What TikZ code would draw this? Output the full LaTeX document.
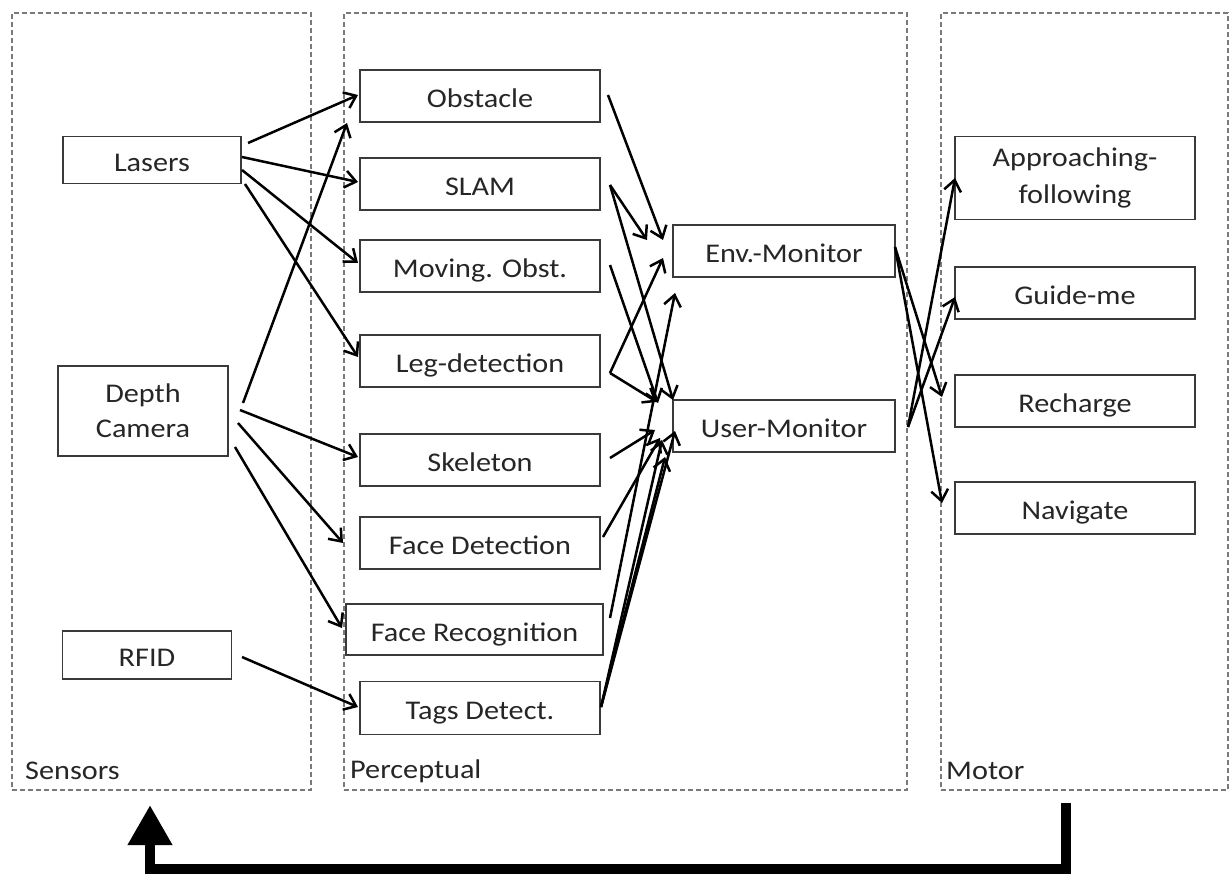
\documentclass[tikz,border=0pt]{standalone}
\usepackage{fontspec}
\setmainfont[FakeStretch=1.12]{Carlito}
\usetikzlibrary{arrows.meta}
\definecolor{boxline}{HTML}{3A3A3A}
\definecolor{dashline}{HTML}{7A7A7A}
\begin{document}
\begin{tikzpicture}[x=1pt,y=-1pt,
  every node/.style={font=\fontsize{27}{31}\selectfont, text=black!85},
  blk/.style={draw=boxline, line width=1.3pt, minimum width=240, minimum height=52, inner sep=0pt, align=center},
  one/.style={text height=23pt, text depth=0pt},
  container/.style={draw=dashline, line width=1.6pt, dash pattern=on 5pt off 3pt, minimum width=#1, minimum height=777, inner sep=0pt},
  grplabel/.style={anchor=west, inner sep=0pt},
  arr/.style={draw=black, line width=2.5pt, -{Straight Barb[length=11pt,width=17pt,line width=2.5pt]}},
  bigarr/.style={draw=black, line width=10pt, line join=miter, -{Triangle[length=40pt,width=42pt]}}
]
\useasboundingbox (0,0) rectangle (1230,879);

% containers
\node[container=299] (sensors) at (161.5,401.5) {};
\node[container=563] (percept) at (625.5,401.5) {};
\node[container=287] (motor) at (1084.5,401.5) {};
\node[grplabel] (lsens) at (25,771) {Sensors};
\node[grplabel] (lperc) at (350,771) {Perceptual};
\node[grplabel] (lmot) at (946,771) {Motor};

% sensors
\node[blk, one, minimum width=178, minimum height=47] (lasers) at (152,160) {Lasers};
\node[blk, minimum width=170, minimum height=90] (depth) at (143,411) {Depth\\[4pt]Camera};
\node[blk, one, minimum width=169, minimum height=48] (rfid) at (147,655) {RFID};

% perceptual
\node[blk, one] (obstacle) at (480,96) {Obstacle};
\node[blk, one] (slam) at (480,184) {SLAM};
\node[blk, one] (moving) at (480,266) {Moving. Obst.};
\node[blk, one] (leg) at (480,361) {Leg-detection};
\node[blk, one] (skeleton) at (480,460) {Skeleton};
\node[blk, one] (facedet) at (480,543) {Face Detection};
\node[blk, one, minimum width=257, minimum height=51] (facerec) at (474.5,629.5) {Face Recognition};
\node[blk, one, minimum height=53] (tags) at (480,708) {Tags Detect.};
\node[blk, one, minimum width=222] (env) at (784,251) {Env.-Monitor};
\node[blk, one, minimum width=222] (user) at (784,426) {User-Monitor};

% motor
\node[blk, minimum height=83] (appr) at (1075,178) {Approaching-\\[6pt]following};
\node[blk, one] (guide) at (1075,293) {Guide-me};
\node[blk, one] (recharge) at (1075,401) {Recharge};
\node[blk, one] (navigate) at (1075,508) {Navigate};

% sensors -> perceptual
\draw[arr] ([shift={(96,-17)}]lasers.center) -- ([shift={(-122,-1)}]obstacle.center);
\draw[arr] ([shift={(90,-3)}]lasers.center) -- ([shift={(-122,-2)}]slam.center);
\draw[arr] ([shift={(90,10)}]lasers.center) -- ([shift={(-122,-3)}]moving.center);
\draw[arr] ([shift={(93,24)}]lasers.center) -- ([shift={(-122,-4)}]leg.center);
\draw[arr] ([shift={(100,-8)}]depth.center) -- ([shift={(-133,27)}]obstacle.center);
\draw[arr] ([shift={(97,-1)}]depth.center) -- ([shift={(-122,-3)}]skeleton.center);
\draw[arr] ([shift={(95,12)}]depth.center) -- ([shift={(-137,0)}]facedet.center);
\draw[arr] ([shift={(92,36)}]depth.center) -- ([shift={(-132.5,-1.5)}]facerec.center);
\draw[arr] ([shift={(95,2)}]rfid.center) -- ([shift={(-122,-1)}]tags.center);

% perceptual -> monitors
\draw[arr] ([shift={(128,-1)}]obstacle.center) -- ([shift={(-121,-11)}]env.center);
\draw[arr] ([shift={(130,1)}]slam.center) -- ([shift={(-137,-11)}]env.center);
\draw[arr] ([shift={(130,1)}]slam.center) -- ([shift={(-111,-26)}]user.center);
\draw[arr] ([shift={(130,-1)}]moving.center) -- ([shift={(-126,-23)}]user.center);
\draw[arr] ([shift={(130,12)}]leg.center) -- ([shift={(-121,7)}]env.center);
\draw[arr] ([shift={(130,12)}]leg.center) -- ([shift={(-127,-24)}]user.center);
\draw[arr] ([shift={(130,-2)}]skeleton.center) -- ([shift={(-129,4)}]user.center);
\draw[arr] ([shift={(123,-6)}]facedet.center) -- ([shift={(-124,12)}]user.center);
\draw[arr] ([shift={(135.5,-11.5)}]facerec.center) -- ([shift={(-109,42)}]env.center);
\draw[arr] ([shift={(121,-1)}]tags.center) -- ([shift={(-119,31)}]user.center);
\draw[arr] ([shift={(121,-1)}]tags.center) -- ([shift={(-109,5)}]user.center);
\draw[arr] ([shift={(121,-1)}]tags.center) -- ([shift={(-122,14)}]user.center);

% monitors -> motor
\draw[arr] ([shift={(111,-4)}]env.center) -- ([shift={(-133,-4)}]recharge.center);
\draw[arr] ([shift={(111,-4)}]env.center) -- ([shift={(-133,-5)}]navigate.center);
\draw[arr] ([shift={(124,1)}]user.center) -- ([shift={(-120,0)}]appr.center);
\draw[arr] ([shift={(124,1)}]user.center) -- ([shift={(-120,4)}]guide.center);

% feedback arrow
\coordinate (fbstart) at (1066,803);
\coordinate (fbright) at (1066,869);
\coordinate (fbleft) at (150,869);
\coordinate (fbend) at (150,805);
\draw[bigarr] (fbstart) -- (fbright) -- (fbleft) -- (fbend);
\end{tikzpicture}
\end{document}
